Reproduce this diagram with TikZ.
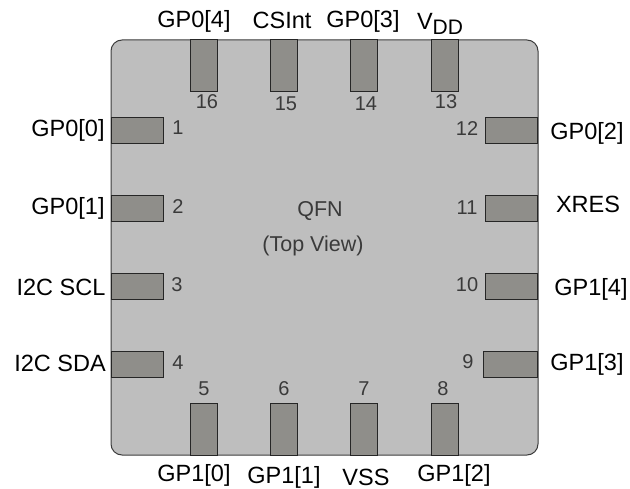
\documentclass[tikz,border=0pt]{standalone}
\usepackage{fontspec}
\setmainfont{Liberation Sans}
\usepackage{color}
\definecolor{bodygray}{HTML}{BEBEBE}
\definecolor{pingray}{HTML}{8F8E8A}
\definecolor{edgegray}{HTML}{3C3C3C}
\definecolor{numgray}{HTML}{3A3A3A}
\begin{document}
\begin{tikzpicture}[x=1pt,y=-1pt,thick,
	package/.style={rectangle, rounded corners=11pt, minimum width=427pt, minimum height=415pt, inner sep=0pt, draw=edgegray, line width=1pt, fill=bodygray},
	vpin/.style={rectangle, minimum width=27pt, minimum height=52pt, inner sep=0pt, draw=black!85, line width=1pt, fill=pingray},
	hpin/.style={rectangle, minimum width=52pt, minimum height=26pt, inner sep=0pt, draw=black!85, line width=1pt, fill=pingray},
	num/.style={inner sep=0pt, text=numgray, font=\fontsize{20}{22}\selectfont},
	signal/.style={inner sep=0pt, text=black, font=\fontsize{23.5}{27}\selectfont},
	caption/.style={inner sep=0pt, text=numgray, font=\fontsize{21.5}{24}\selectfont}]
	\useasboundingbox (0,0) rectangle (630,489);
	
	\node[package] (qfn) at (324.5,247.5) {};
	
	% top row
	\node[vpin] (pin16) at (203.5,66) {};
	\node[vpin] (pin15) at (283.5,66) {};
	\node[vpin] (pin14) at (363.5,66) {};
	\node[vpin] (pin13) at (444.5,66) {};
	
	% left row
	\node[hpin] (pin1) at (137,131) {};
	\node[hpin] (pin2) at (137,209) {};
	\node[hpin] (pin3) at (137,286.5) {};
	\node[hpin] (pin4) at (137,364.5) {};
	
	% right row
	\node[hpin] (pin12) at (511,131) {};
	\node[hpin] (pin11) at (511,209) {};
	\node[hpin] (pin10) at (511,287) {};
	\node[hpin,minimum width=54pt] (pin9) at (510,365) {};
	
	% bottom row
	\node[vpin] (pin5) at (203.5,429.5) {};
	\node[vpin] (pin6) at (283.5,429.5) {};
	\node[vpin] (pin7) at (363.5,429.5) {};
	\node[vpin] (pin8) at (444.5,429.5) {};
	
	\node[num] (n16) at (207,102) {16};
	\node[num] (n15) at (286,104) {15};
	\node[num] (n14) at (366,104) {14};
	\node[num] (n13) at (446,102) {13};
	\node[num] (n1) at (178,128) {1};
	\node[num] (n2) at (178,207) {2};
	\node[num] (n3) at (177,285) {3};
	\node[num] (n4) at (178,363) {4};
	\node[num] (n5) at (204,389) {5};
	\node[num] (n6) at (284,389) {6};
	\node[num] (n7) at (364,389) {7};
	\node[num] (n8) at (443,389) {8};
	\node[num] (n9) at (468,362) {9};
	\node[num] (n10) at (467,285) {10};
	\node[num] (n11) at (467,208) {11};
	\node[num] (n12) at (467,129) {12};
	
	\node[signal] (gp04) at (194,21) {GP0[4]};
	\node[signal] (csint) at (282,20) {CSInt};
	\node[signal] (gp03) at (363,21) {GP0[3]};
	\node[signal] (vdd) at (440,24) {V\raisebox{-5pt}{\fontsize{21}{24}\selectfont DD}};
	\node[signal] (gp00) at (68,130) {GP0[0]};
	\node[signal] (gp01) at (68,208) {GP0[1]};
	\node[signal] (scl) at (61,287) {I2C SCL};
	\node[signal] (sda) at (60,363) {I2C SDA};
	\node[signal] (gp02) at (587,133) {GP0[2]};
	\node[signal] (xres) at (588,204) {XRES};
	\node[signal] (gp14) at (591,289) {GP1[4]};
	\node[signal] (gp13) at (587,364) {GP1[3]};
	\node[signal] (gp10) at (194,475) {GP1[0]};
	\node[signal] (gp11) at (284,477) {GP1[1]};
	\node[signal] (vss) at (366,477) {VSS};
	\node[signal] (gp12) at (454,475) {GP1[2]};
	
	\node[caption] (title) at (320,211) {QFN};
	\node[caption] (view) at (313,246) {(Top View)};
\end{tikzpicture}
\end{document}
